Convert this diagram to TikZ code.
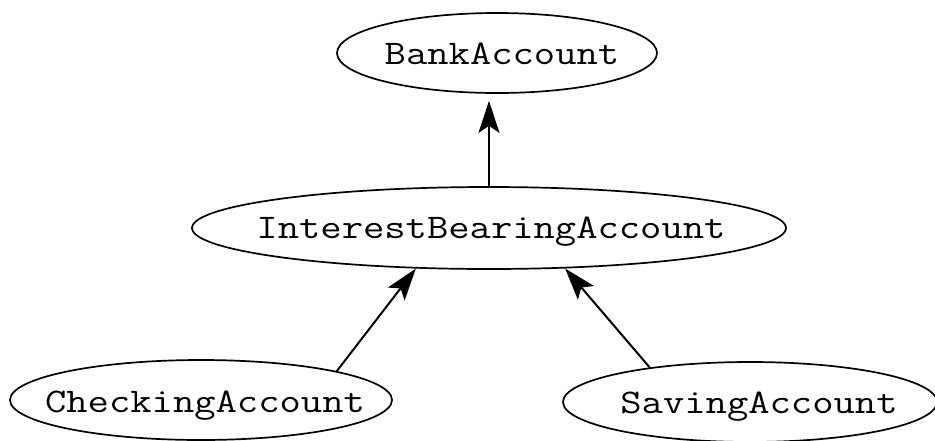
\documentclass[tikz,border=0pt]{standalone}
\usepackage{fontspec}
\usepackage{graphicx}
\usetikzlibrary{shapes.geometric,arrows.meta}
% typewriter face for the class names, widened to a Courier-like pitch
\newcommand{\classname}[1]{\scalebox{1.2}[1]{#1}}
\begin{document}
\begin{tikzpicture}[x=1pt,y=-1pt,
  acct/.style={draw=black, line width=1.7pt, ellipse, inner sep=0pt},
  acctname/.style={anchor=base, inner sep=0pt, font=\ttfamily\fontsize{34.5}{36}\selectfont},
  inherit/.style={draw=black, line width=2pt, -{Stealth[length=32pt,width=21pt,inset=7pt]}}]
\useasboundingbox (0,0) rectangle (935,440);

% class ellipses
\node[acct, minimum width=320pt, minimum height=80pt] (bank) at (497,53) {};
\node[acct, minimum width=594pt, minimum height=82pt] (iba) at (489,228) {};
\node[acct, minimum width=382pt, minimum height=80pt] (checking) at (201,400) {};
\node[acct, minimum width=374pt, minimum height=80pt] (saving) at (750,402) {};

% class names
\node[acctname] (bankT) at ([xshift=5pt,yshift=-11pt]bank.center) {\classname{BankAccount}};
\node[acctname] (ibaT) at ([xshift=2pt,yshift=-10pt]iba.center) {\classname{InterestBearingAccount}};
\node[acctname] (checkingT) at ([xshift=4pt,yshift=-12pt]checking.center) {\classname{CheckingAccount}};
\node[acctname] (savingT) at ([xshift=9pt,yshift=-11pt]saving.center) {\classname{SavingAccount}};

% inheritance arrows
\draw[inherit, shorten >=7pt] (iba.north) -- (iba.north |- bank.south);
\draw[inherit] (checking.12.5) -- (iba.209);
\draw[inherit] (saving.161.8) -- (iba.332.5);
\end{tikzpicture}
\end{document}
